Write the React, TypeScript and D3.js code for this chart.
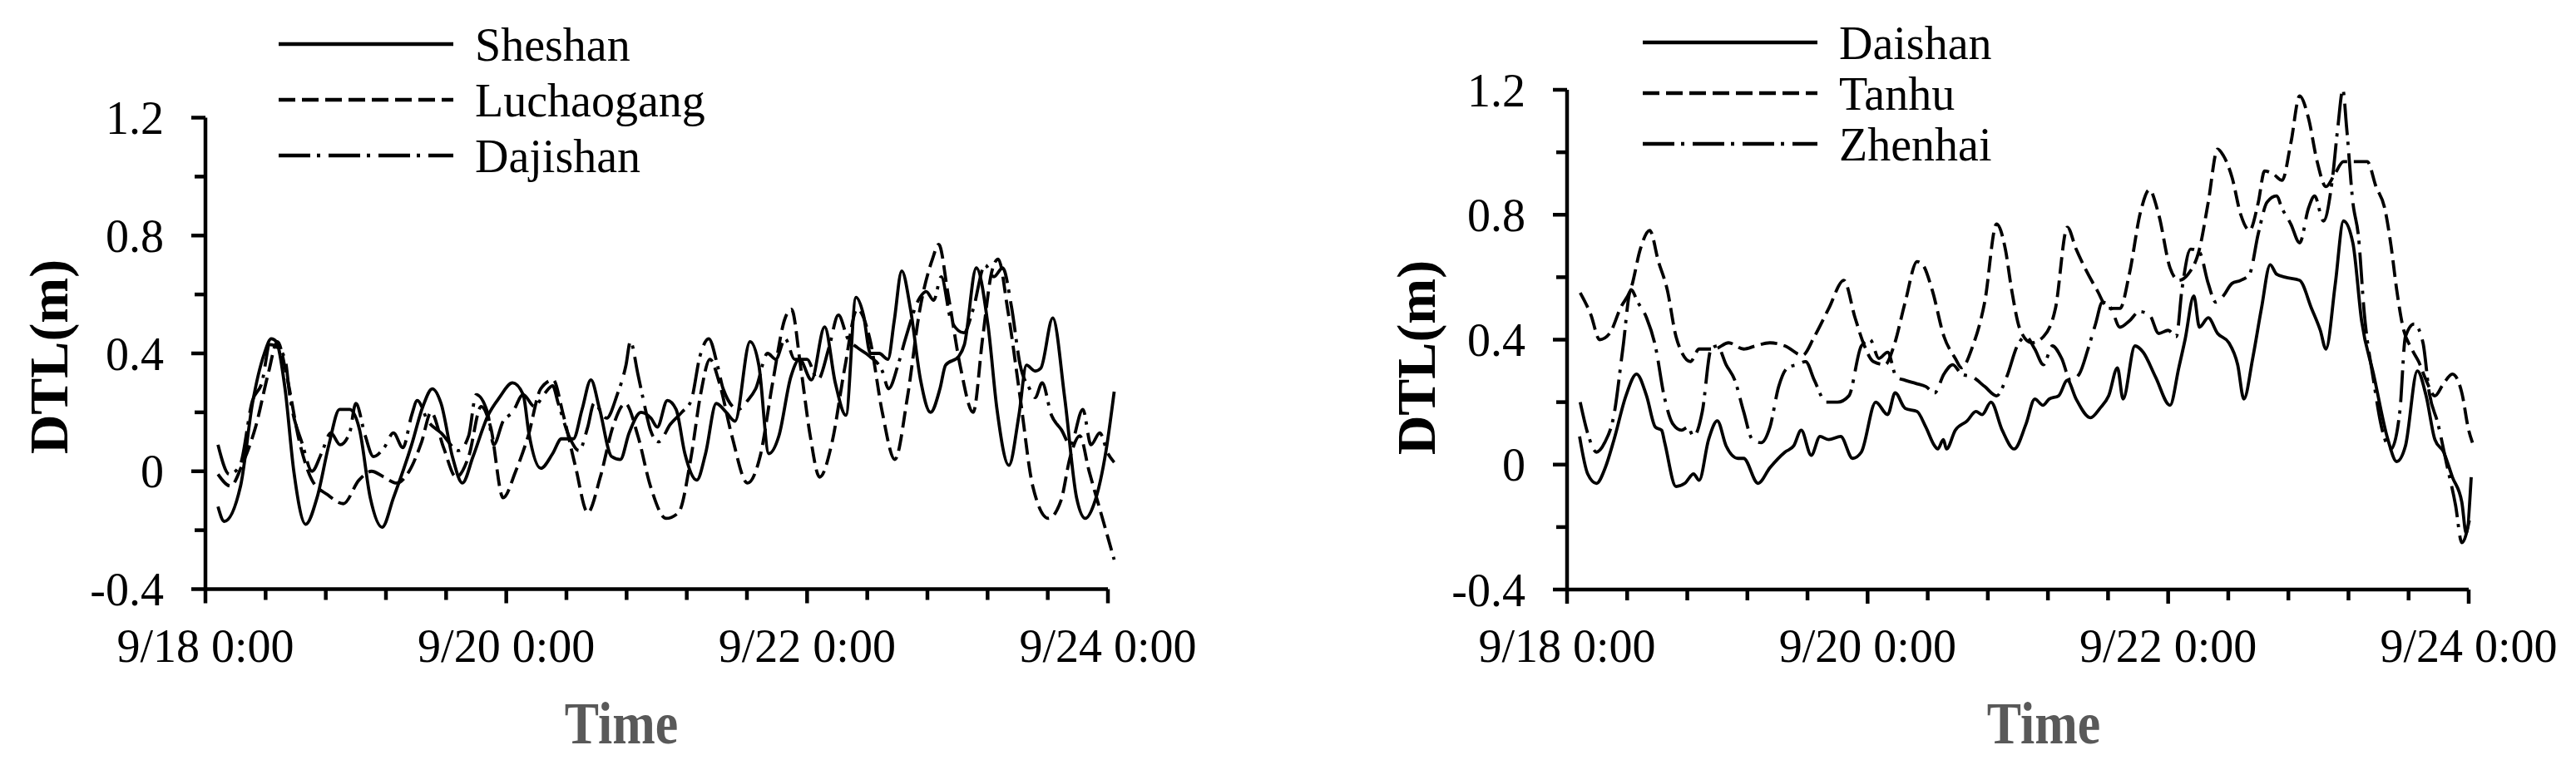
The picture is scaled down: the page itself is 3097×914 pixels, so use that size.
import React from "react";
import * as d3 from "d3";

type P = [number, number];

// hours since 9/18 0:00, DTL (m)
const sheshan: P[] = [[2.0,-0.12],[3.0,-0.17],[5.6,-0.05],[7.5,0.23],[9.4,0.40],[10.5,0.45],[11.3,0.44],[12.7,0.28],[14.1,0.0],[16.0,-0.18],[17.8,-0.09],[19.7,0.09],[21.4,0.21],[23.0,0.21],[24.6,0.14],[26.3,-0.09],[28.2,-0.19],[30.0,-0.09],[32.9,0.09],[34.7,0.22],[36.2,0.28],[37.6,0.23],[39.4,0.05],[41.0,-0.04],[42.7,0.05],[45.1,0.19],[46.9,0.25],[49.0,0.30],[50.7,0.26],[51.6,0.13],[53.5,0.01],[55.4,0.06],[56.8,0.11],[58.7,0.11],[60.1,0.21],[61.5,0.31],[62.9,0.21],[64.8,0.05],[66.2,0.04],[67.6,0.13],[69.5,0.20],[71.1,0.18],[72.1,0.15],[73.7,0.24],[75.1,0.21],[76.5,0.06],[78.4,-0.03],[79.8,0.06],[81.5,0.23],[83.1,0.20],[84.5,0.17],[86.9,0.44],[88.3,0.36],[89.9,0.06],[91.5,0.12],[93.4,0.32],[94.8,0.38],[96.7,0.31],[98.8,0.49],[100.5,0.30],[102.2,0.19],[103.8,0.59],[105.0,0.53],[106.1,0.40],[107.5,0.40],[108.9,0.38],[109.9,0.51],[111.1,0.68],[112.5,0.55],[114.1,0.31],[115.7,0.20],[117.2,0.28],[118.1,0.36],[120.2,0.39],[121.1,0.43],[123.0,0.69],[124.9,0.49],[126.3,0.21],[128.2,0.02],[129.8,0.19],[131.0,0.36],[132.4,0.34],[133.3,0.35],[135.2,0.52],[137.1,0.25],[139.0,-0.09],[140.4,-0.16],[141.8,-0.11],[143.7,0.07],[145.0,0.27]];

const luchaogang: P[] = [[2,-0.01],[4,-0.05],[6,0.03],[8,0.15],[10,0.33],[11.5,0.44],[13,0.32],[15,0.10],[17,-0.03],[19.5,-0.08],[22,-0.11],[24.5,-0.03],[26.5,0.0],[28.5,-0.02],[30.5,-0.04],[32.5,0.0],[34.5,0.1],[36,0.2],[38,0.08],[40,-0.02],[42,0.05],[44,0.22],[45.5,0.15],[47.5,-0.09],[49.5,0.0],[51.5,0.12],[53.5,0.28],[55.5,0.31],[57,0.2],[59,0.02],[61,-0.14],[63,-0.02],[65,0.15],[67,0.23],[69,0.12],[71,-0.05],[73.5,-0.16],[75.5,-0.14],[77.5,0.05],[79,0.26],[80.5,0.38],[82,0.3],[84,0.12],[86.5,-0.04],[88.5,0.05],[90.5,0.3],[92.5,0.52],[93.5,0.55],[95,0.35],[96.5,0.12],[98,-0.02],[100,0.1],[102,0.35],[104,0.55],[106,0.45],[108,0.2],[110,0.04],[112,0.25],[114,0.55],[116,0.72],[117,0.77],[118.5,0.6],[120.5,0.35],[122.5,0.2],[124,0.45],[125.5,0.68],[126.5,0.72],[128,0.55],[130,0.25],[132,-0.05],[134.5,-0.16],[136.5,-0.1],[138,0.05],[139.5,0.12],[141,0.0],[143,-0.15],[145,-0.3]];

const dajishan: P[] = [[2,0.09],[3.8,-0.01],[5.5,0.02],[7.5,0.24],[9,0.3],[10.3,0.43],[11.5,0.42],[12.7,0.38],[13.5,0.25],[15.5,0.09],[17,0.0],[18.5,0.06],[20,0.13],[21.5,0.09],[23,0.13],[24,0.23],[25.5,0.12],[26.8,0.05],[28.5,0.08],[30,0.13],[31.5,0.08],[32.9,0.19],[33.8,0.24],[35.5,0.17],[37.6,0.13],[40.4,0.07],[42,0.12],[43.2,0.26],[45,0.2],[46,0.09],[47.5,0.17],[49,0.2],[50.7,0.26],[52.5,0.22],[54,0.26],[55.4,0.29],[56.3,0.23],[58.2,0.11],[59.6,0.07],[61,0.15],[62,0.23],[64,0.18],[65.7,0.26],[67.1,0.36],[67.8,0.44],[69,0.33],[70,0.23],[71,0.14],[72.3,0.1],[74.2,0.16],[76,0.2],[77.5,0.24],[78.9,0.39],[80.3,0.45],[81.7,0.36],[82.6,0.28],[85,0.21],[86.5,0.24],[87.8,0.28],[89.7,0.40],[91,0.38],[92.5,0.45],[94,0.38],[96,0.38],[97.7,0.31],[99.5,0.42],[101,0.53],[102.5,0.45],[104,0.42],[106,0.39],[108,0.34],[109,0.28],[110.5,0.36],[111.7,0.45],[114,0.59],[115,0.61],[116.2,0.58],[117.4,0.66],[119,0.51],[121,0.47],[122.5,0.55],[124.4,0.70],[125.8,0.66],[127.2,0.69],[128.6,0.56],[130,0.36],[131.5,0.28],[132.4,0.25],[133.5,0.3],[135,0.19],[136.6,0.14],[138,0.09],[140,0.21],[141.3,0.09],[142.7,0.13],[144,0.06],[145,0.03]];

const daishan: P[] = [[2,0.09],[3.3,-0.03],[4.7,-0.06],[6.1,-0.01],[7.5,0.08],[9.4,0.22],[11.1,0.29],[12.7,0.22],[14.1,0.12],[15.1,0.11],[15.6,0.07],[17.4,-0.07],[18.8,-0.06],[20.2,-0.03],[21.1,-0.05],[22.6,0.08],[24,0.14],[25.4,0.06],[27.3,0.02],[28.2,0.02],[30.5,-0.06],[32.4,-0.01],[34.8,0.04],[36.2,0.06],[37.4,0.11],[39,0.03],[40.4,0.09],[41.8,0.08],[43.7,0.09],[45.6,0.02],[47,0.04],[49.3,0.20],[51.2,0.16],[52.4,0.23],[54,0.18],[55.9,0.17],[57.3,0.12],[58.7,0.06],[59.2,0.05],[60.1,0.08],[60.6,0.05],[62,0.11],[63.9,0.14],[65.3,0.17],[66.3,0.16],[67.7,0.2],[69.5,0.11],[71.4,0.05],[73.3,0.13],[74.7,0.21],[76,0.19],[77,0.21],[78.5,0.22],[79.9,0.27],[81.3,0.21],[83.6,0.15],[85.1,0.18],[86.5,0.22],[87.9,0.31],[88.8,0.21],[90.7,0.38],[92,0.36],[94,0.28],[96.3,0.19],[97.7,0.31],[98.7,0.40],[100.1,0.54],[101,0.44],[102.4,0.47],[103.9,0.42],[105.7,0.39],[107.1,0.32],[108.1,0.21],[109.5,0.34],[110.9,0.5],[112.3,0.64],[113.3,0.61],[114.7,0.60],[117,0.59],[118.9,0.5],[120.3,0.43],[121.2,0.37],[122.7,0.58],[124,0.78],[125.5,0.71],[126.9,0.46],[128.8,0.29],[131.1,0.08],[132.5,0.01],[133.9,0.06],[135.8,0.30],[137.2,0.22],[138.6,0.08],[140,0.04],[141.4,-0.04],[142.9,-0.12],[143.6,-0.22],[144.4,-0.04]];

const tanhu: P[] = [[2.1,0.55],[3.8,0.48],[5.2,0.40],[6.8,0.42],[8.5,0.50],[10.3,0.57],[11.7,0.69],[13.2,0.75],[14.6,0.65],[16,0.56],[17.4,0.41],[18.3,0.36],[19.7,0.33],[21.1,0.37],[23.5,0.37],[25.8,0.39],[28.2,0.37],[30.1,0.38],[32.4,0.39],[34.8,0.38],[37.6,0.35],[39.5,0.41],[41.8,0.5],[44.2,0.59],[46,0.47],[47.5,0.38],[48.9,0.33],[50.8,0.32],[52.2,0.38],[54,0.52],[55.9,0.65],[56.8,0.64],[58.3,0.56],[60.2,0.41],[62,0.34],[63,0.31],[64.8,0.38],[66.7,0.52],[68.6,0.77],[70,0.69],[71,0.56],[72.4,0.43],[74.2,0.39],[76.1,0.41],[78,0.5],[79.9,0.76],[81.3,0.69],[82.7,0.63],[84.6,0.56],[86.5,0.5],[88.3,0.5],[89.8,0.61],[91.6,0.81],[93,0.88],[94.5,0.80],[96.3,0.63],[97.7,0.59],[99.2,0.61],[101,0.69],[102.4,0.84],[103.9,1.01],[104.8,0.99],[106.2,0.92],[107.6,0.80],[109,0.75],[110.4,0.84],[111.4,0.94],[112.8,0.93],[114.2,0.91],[115.6,1.03],[117,1.18],[118.4,1.11],[119.8,0.97],[121.2,0.89],[122.6,0.93],[124,0.97],[125.9,0.97],[127.8,0.97],[129.2,0.89],[130.6,0.82],[131.6,0.70],[132.5,0.56],[133.5,0.44],[134.9,0.37],[136,0.33],[137.2,0.27],[138.6,0.22],[140,0.26],[141.4,0.29],[142.9,0.23],[144,0.11],[144.6,0.07]];

const zhenhai: P[] = [[2.1,0.2],[3.3,0.1],[4.7,0.04],[6,0.07],[7.5,0.16],[8.9,0.37],[10.2,0.56],[11.3,0.52],[12.7,0.47],[14.1,0.38],[15.5,0.22],[16.9,0.13],[18.3,0.11],[19.3,0.12],[20.2,0.09],[21.6,0.17],[23,0.37],[24,0.38],[25.4,0.32],[26.8,0.27],[28.2,0.17],[29.6,0.08],[31,0.07],[32.4,0.12],[33.8,0.25],[35.2,0.31],[36.7,0.32],[38.1,0.33],[39.5,0.27],[41.4,0.2],[43.2,0.2],[45,0.22],[47,0.38],[48.4,0.4],[49.8,0.34],[51.2,0.36],[52.6,0.28],[54,0.27],[55.7,0.26],[57.3,0.25],[58.7,0.23],[60.2,0.29],[61.6,0.32],[63,0.29],[64.8,0.28],[66.7,0.25],[68.6,0.22],[70.2,0.28],[71.9,0.38],[73.3,0.41],[74.7,0.37],[76.1,0.32],[77.5,0.38],[79,0.34],[80.4,0.27],[81.8,0.29],[83.2,0.37],[84.4,0.45],[85.5,0.52],[86.9,0.5],[88.3,0.44],[89.8,0.46],[91.4,0.49],[93,0.48],[94.5,0.42],[96,0.43],[97.3,0.41],[98.2,0.56],[99.6,0.69],[101,0.68],[102.4,0.58],[103.6,0.52],[104.8,0.54],[106.2,0.58],[107.6,0.59],[109,0.61],[110.4,0.74],[111.8,0.84],[113.3,0.86],[114.2,0.82],[115.6,0.77],[117,0.71],[118.4,0.82],[119.4,0.86],[120.8,0.78],[122.2,0.91],[123.1,1.08],[123.9,1.2],[124.5,1.08],[125.5,0.84],[126.4,0.73],[127.3,0.49],[128.8,0.27],[130.2,0.11],[131.6,0.05],[133,0.17],[133.9,0.41],[135.3,0.45],[136.7,0.39],[137.7,0.23],[139.1,0.13],[140.5,0.0],[141.9,-0.13],[142.9,-0.25],[144.3,-0.16]];

const xTickLabels = ["9/18 0:00", "9/20 0:00", "9/22 0:00", "9/24 0:00"];
const xLabelHours = [0, 48, 96, 144];
const yMajor = [-0.4, 0, 0.4, 0.8, 1.2];
const yMinor = [-0.2, 0.2, 0.6, 1.0];
const leftNames = ["Sheshan", "Luchaogang", "Dajishan"];
const rightNames = ["Daishan", "Tanhu", "Zhenhai"];

const FONT = "'Liberation Serif', 'Times New Roman', serif";
const DASHES = [null, "20,8", "38,8,4,10"];

type PanelProps = {
  x0: number; x1: number; yTop: number; yBot: number;
  series: P[][]; names: string[];
  legX: number; legY0: number; legDy: number;
  ylabX: number; ylabY: number; timeX: number;
};

function Panel(p: PanelProps) {
  const x = d3.scaleLinear().domain([0, 144]).range([p.x0, p.x1]);
  const y = d3.scaleLinear().domain([-0.4, 1.2]).range([p.yBot, p.yTop]);
  const line = d3.line<P>().x(d => x(d[0])).y(d => y(d[1])).curve(d3.curveMonotoneX);
  const xTicks = d3.range(0, 16).map(i => i * 9.6);
  const axisX = x(0);
  const axisY = y(-0.4);
  return (
    <g fontFamily={FONT}>
      {p.series.map((s, i) => (
        <path key={i} d={line(s) || ""} fill="none" stroke="#000" strokeWidth={3.8}
          strokeDasharray={DASHES[i] || undefined} strokeLinejoin="round" />
      ))}
      <line x1={axisX} x2={axisX} y1={y(1.2)} y2={axisY} stroke="#000" strokeWidth={4.5} />
      <line x1={axisX} x2={x(144)} y1={axisY} y2={axisY} stroke="#000" strokeWidth={4.5} />
      {yMajor.map(v => (
        <g key={"ym" + v}>
          <line x1={axisX - 17} x2={axisX} y1={y(v)} y2={y(v)} stroke="#000" strokeWidth={4.5} />
          <text x={axisX - 50} y={y(v)} dy="0.35em" textAnchor="end" fontSize={56}>{v === 0 ? "0" : v.toFixed(1)}</text>
        </g>
      ))}
      {yMinor.map(v => (
        <line key={"yn" + v} x1={axisX - 13} x2={axisX} y1={y(v)} y2={y(v)} stroke="#000" strokeWidth={4.5} />
      ))}
      {xTicks.map((t, i) => (
        <line key={"xt" + i} x1={x(t)} x2={x(t)} y1={axisY} y2={axisY + (i % 5 === 0 ? 17 : 13)} stroke="#000" strokeWidth={4.5} />
      ))}
      {xLabelHours.map((h, i) => (
        <text key={"xl" + i} x={x(h)} y={796} textAnchor="middle" fontSize={56}>{xTickLabels[i]}</text>
      ))}
      {p.names.map((n, i) => (
        <g key={n}>
          <line x1={p.legX} x2={p.legX + 210} y1={p.legY0 + i * p.legDy} y2={p.legY0 + i * p.legDy}
            stroke="#000" strokeWidth={4.5} strokeDasharray={DASHES[i] || undefined} />
          <text x={p.legX + 236} y={p.legY0 + i * p.legDy + 20} fontSize={56}>{n}</text>
        </g>
      ))}
      <text transform={`translate(${p.ylabX},${p.ylabY}) rotate(-90)`} textAnchor="middle" dy="0.35em"
        fontSize={66} fontWeight="bold">DTL(m)</text>
      <text transform={`translate(${p.timeX},894) scale(0.86,1)`} textAnchor="middle"
        fontSize={72} fontWeight="bold" fill="#595959">Time</text>
    </g>
  );
}

export default function App() {
  return (
    <svg width={3097} height={914} style={{ position: "absolute", left: 0, top: 0, background: "#fff" }}>
      <rect x={0} y={0} width={3097} height={914} fill="#fff" />
      <Panel x0={247} x1={1332} yTop={141.5} yBot={708.5} series={[sheshan, luchaogang, dajishan]}
        names={leftNames} legX={335} legY0={53} legDy={67} ylabX={58} ylabY={429} timeX={747} />
      <Panel x0={1884} x1={2968} yTop={108} yBot={709} series={[daishan, tanhu, zhenhai]}
        names={rightNames} legX={1975} legY0={51} legDy={61} ylabX={1702} ylabY={430} timeX={2457} />
    </svg>
  );
}
